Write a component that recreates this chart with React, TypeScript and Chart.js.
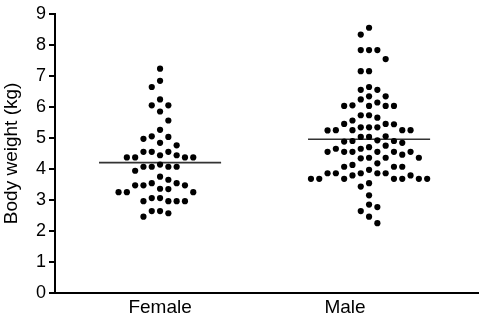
import React, { useEffect, useRef } from "react";
import { Chart, registerables } from "chart.js";

Chart.register(...registerables);

const categories = ["Female", "Male"];

const femaleWeights = [
  7.23, 6.84, 6.64, 6.24, 6.05, 6.05, 5.85, 5.56, 5.26, 5.03, 4.97, 5.05, 4.84, 4.76,
  4.55, 4.44, 4.37, 4.37, 4.37, 4.37, 4.44, 4.55, 4.55,
  4.07, 4.07, 4.07, 4.07, 3.94, 4.14,
  3.75,
  3.47, 3.36, 3.54, 3.54, 3.65,
  3.35, 3.47, 3.47,
  3.25, 3.25, 3.25,
  3.06, 2.96, 2.96, 2.96, 2.96, 3.06,
  2.64, 2.46, 2.57, 2.64,
];

const maleWeights = [
  8.55, 8.33,
  7.83, 7.83, 7.83,
  7.54,
  7.15, 7.15,
  6.64, 6.55, 6.55,
  6.34, 6.34,
  6.24, 6.14,
  6.05, 6.03, 6.03, 6.03, 6.03,
  5.73, 5.73, 5.65, 5.56,
  5.45, 5.45, 5.44,
  5.34, 5.34, 5.34,
  5.25, 5.25, 5.25, 5.25, 5.24,
  5.05, 5.03, 5.03,
  4.92, 4.9, 4.9, 4.88,
  4.84, 4.75, 4.7, 4.65, 4.65,
  4.55, 4.55, 4.55, 4.55, 4.46, 4.55, 4.55,
  4.36, 4.36, 4.36, 4.34,
  4.18, 4.13,
  4.07, 4.07, 4.07,
  3.97,
  3.86, 3.86, 3.86, 3.86, 3.86,
  3.79, 3.79,
  3.68, 3.68, 3.68, 3.68, 3.68, 3.68, 3.68,
  3.54, 3.43, 3.15, 2.85, 2.77, 2.64, 2.46, 2.25,
];

const yTicks = [0, 1, 2, 3, 4, 5, 6, 7, 8, 9];

const FONT = "'Liberation Sans', Arial, sans-serif";

// horizontal placement of each column's swarm relative to its label (style)
const columnShift = [0, 0.13];

function swarmColumns(pix: number[], gap: number): number[] {
  const order = pix.map((_, i) => i).sort((a, b) => pix[a] - pix[b]);
  const placed: { col: number; y: number }[] = [];
  const cols = new Array(pix.length).fill(0);
  let flip = 1;
  for (const i of order) {
    const y = pix[i];
    for (let k = 0; k < 80; k++) {
      const col = k === 0 ? 0 : Math.ceil(k / 2) * (k % 2 === 1 ? -flip : flip);
      if (!placed.some((p) => p.col === col && Math.abs(p.y - y) < gap)) {
        placed.push({ col, y });
        cols[i] = col;
        if (col !== 0) flip = -flip;
        break;
      }
    }
  }
  return cols;
}

export default function App() {
  const ref = useRef<HTMLCanvasElement>(null);

  useEffect(() => {
    const series = [femaleWeights, maleWeights];
    const means = series.map((s) => s.reduce((a, b) => a + b, 0) / s.length);
    const halfLine = 0.33;

    const chart = new Chart(ref.current as HTMLCanvasElement, {
      type: "scatter",
      data: {
        datasets: [
          ...series.map((s, c) => ({
            type: "scatter" as const,
            label: categories[c],
            data: s.map((v) => ({ x: c + columnShift[c], y: v })),
            pointRadius: 3.1,
            pointHoverRadius: 3.1,
            backgroundColor: "#000",
            borderWidth: 0,
          })),
          ...means.map((m, c) => ({
            type: "line" as const,
            label: categories[c] + " mean",
            data: [
              { x: c + columnShift[c] - halfLine, y: m },
              { x: c + columnShift[c] + halfLine, y: m },
            ],
            borderColor: "#333",
            borderWidth: 1.6,
            pointRadius: 0,
          })),
        ],
      },
      options: {
        animation: false,
        responsive: true,
        maintainAspectRatio: false,
        layout: { padding: { top: 8, right: 4, left: 0, bottom: 0 } },
        plugins: { legend: { display: false }, tooltip: { enabled: false } },
        scales: {
          x: {
            type: "linear",
            min: -0.568,
            max: 1.719,
            grid: { display: false, drawTicks: false },
            border: { display: true, color: "#000", width: 2 },
            afterBuildTicks: (scale: any) => {
              scale.ticks = categories.map((_, i) => ({ value: i }));
            },
            afterFit: (scale: any) => {
              scale.height = 27;
            },
            ticks: {
              autoSkip: false,
              maxRotation: 0,
              color: "#000",
              font: { family: FONT, size: 19 },
              padding: 3,
              callback: (v: any) => categories[v as number] ?? "",
            },
          },
          y: {
            type: "linear",
            min: 0,
            max: 9,
            afterBuildTicks: (scale: any) => {
              scale.ticks = yTicks.map((v) => ({ value: v }));
            },
            afterFit: (scale: any) => {
              scale.width = 55;
            },
            grid: {
              display: true,
              drawOnChartArea: false,
              drawTicks: true,
              tickLength: 6,
              color: "#000",
              lineWidth: 2,
            },
            border: { display: true, color: "#000", width: 2 },
            ticks: {
              color: "#000",
              font: { family: FONT, size: 18 },
              padding: 3,
            },
            title: {
              display: true,
              text: "Body weight (kg)",
              color: "#000",
              font: { family: FONT, size: 19 },
              padding: 0,
            },
          },
        },
      },
    });

    const xs = chart.scales.x;
    const ys = chart.scales.y;
    const pxPerUnit = xs.getPixelForValue(1) - xs.getPixelForValue(0);
    const colWidth = 8.3;
    const gap = 9;
    series.forEach((s, c) => {
      const cols = swarmColumns(
        s.map((v) => ys.getPixelForValue(v)),
        gap
      );
      (chart.data.datasets[c] as any).data = s.map((v, i) => ({
        x: c + columnShift[c] + (cols[i] * colWidth) / pxPerUnit,
        y: v,
      }));
    });
    chart.update();

    return () => chart.destroy();
  }, []);

  return (
    <div style={{ position: "absolute", left: 0, top: 0, width: 482, height: 320, background: "#fff" }}>
      <canvas ref={ref} />
    </div>
  );
}
